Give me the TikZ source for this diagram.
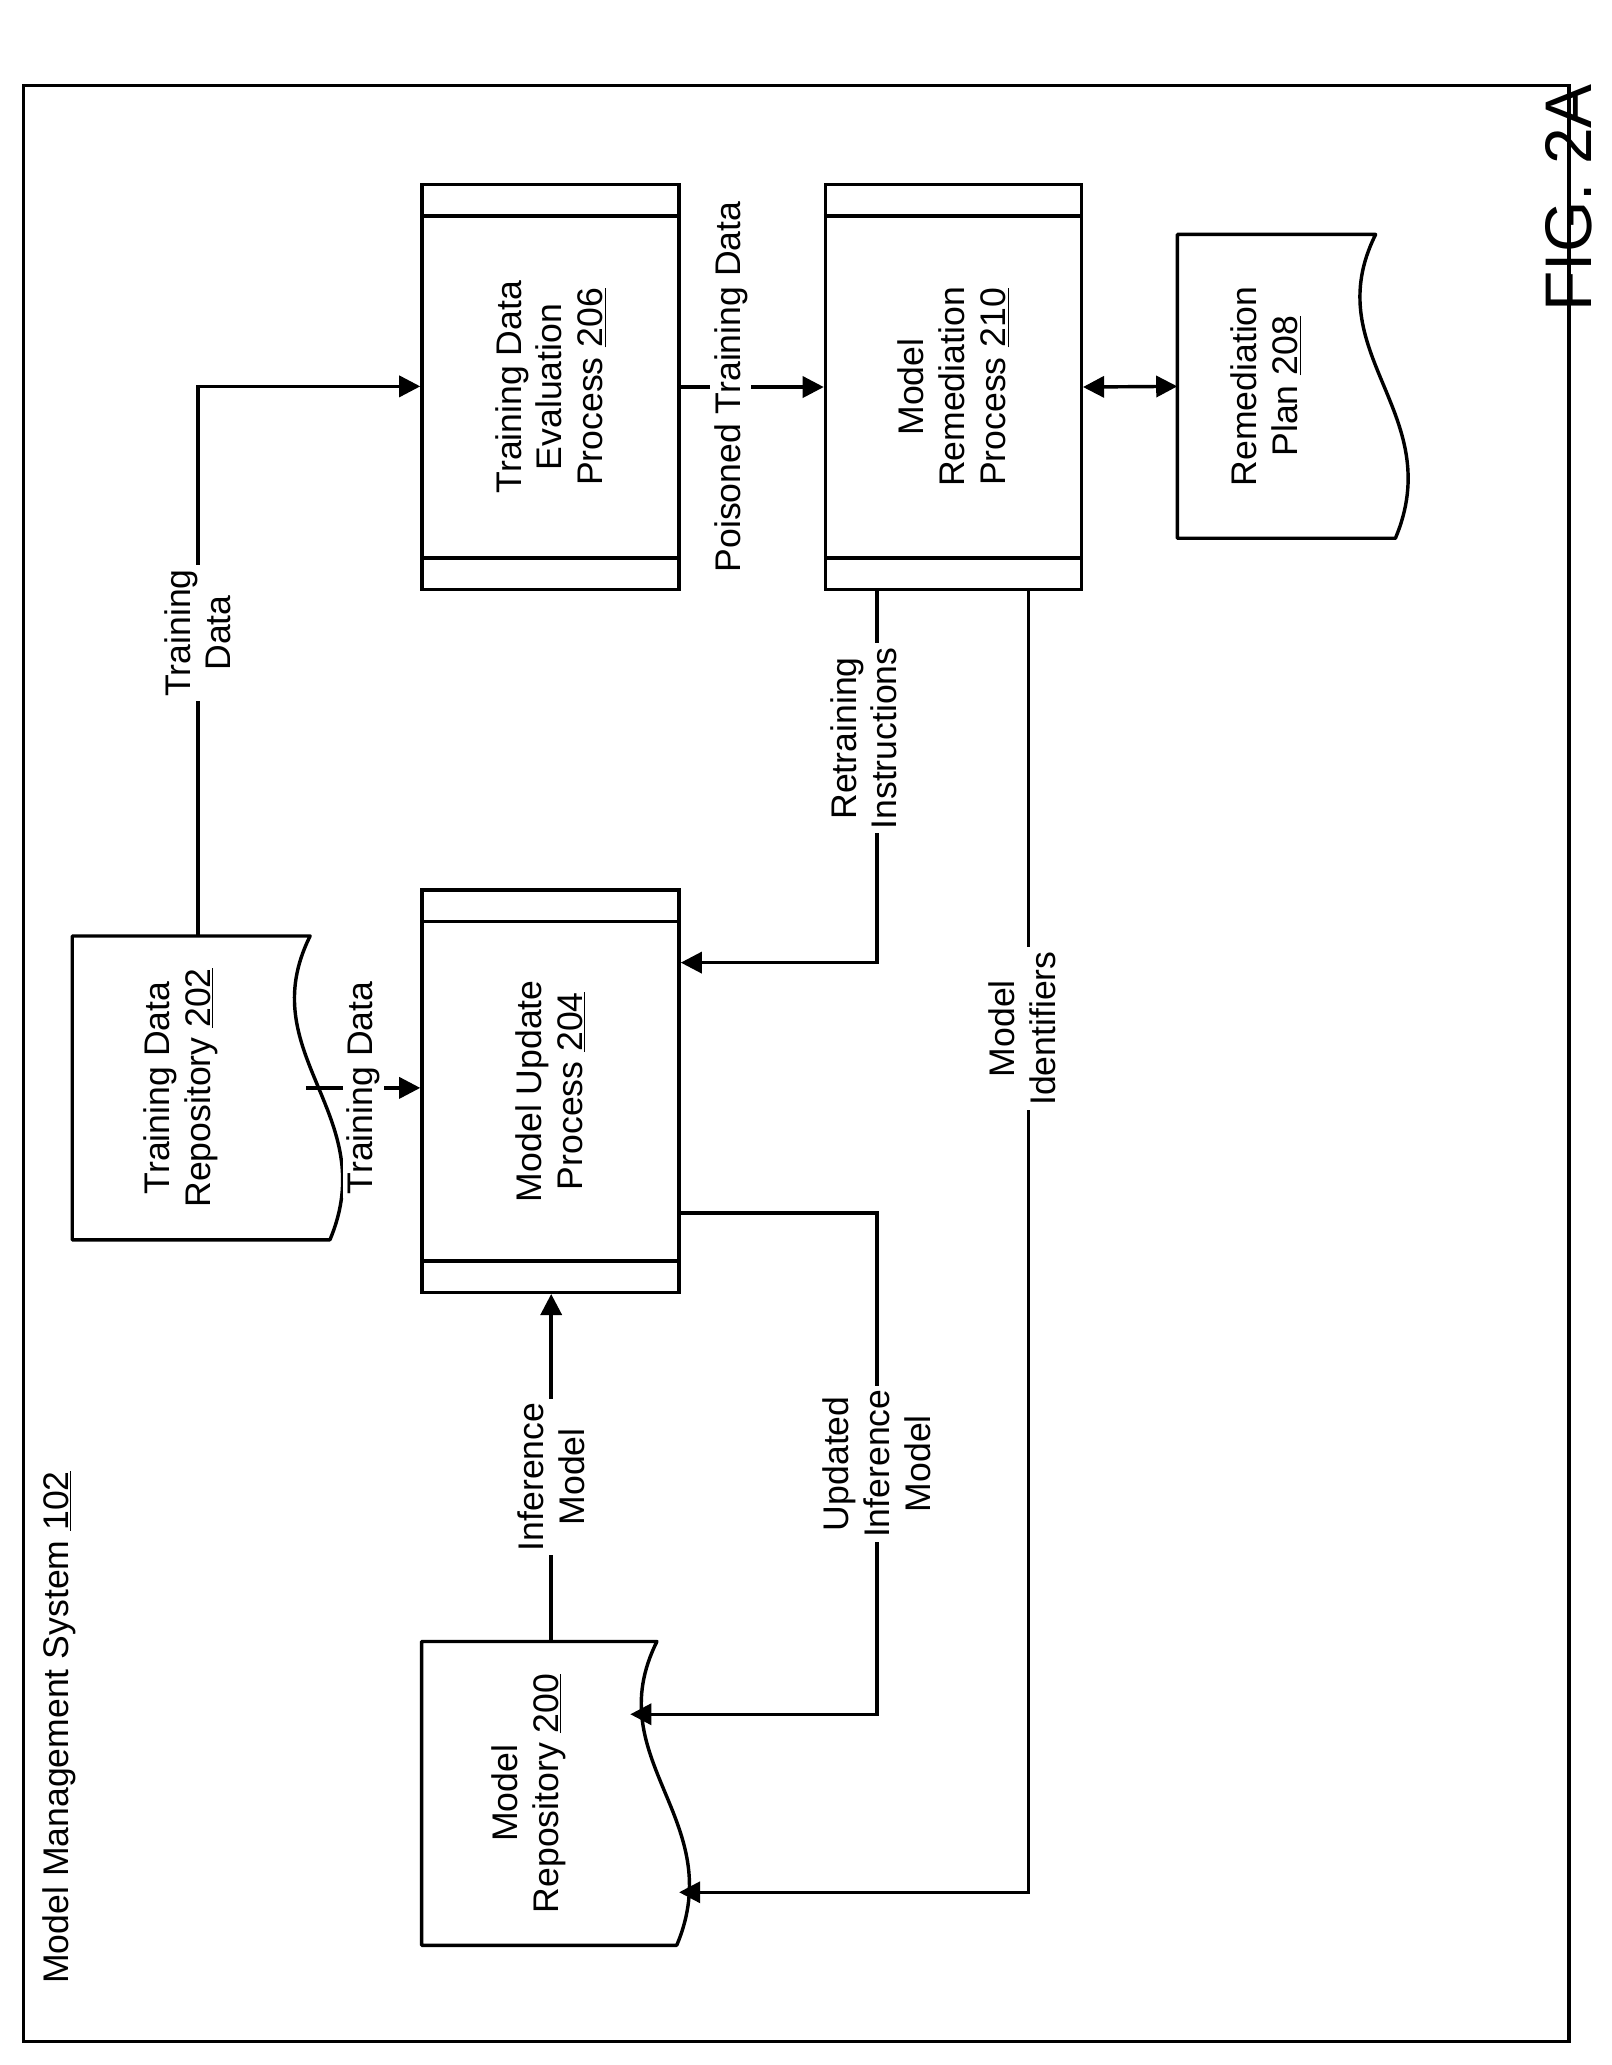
\documentclass[tikz,border=0pt]{standalone}
\usepackage{fontspec}
\setmainfont{Liberation Sans}
\usetikzlibrary{arrows.meta,calc}
\begin{document}
\begin{tikzpicture}[x=1pt,y=-1pt,
  every node/.style={font=\fontsize{27}{31}\selectfont},
  ln/.style={line width=2.6pt},
  arr/.style={ln,-{Triangle[length=16pt,width=16pt]}},
  darr/.style={ln,{Triangle[length=16pt,width=16pt]}-{Triangle[length=16pt,width=16pt]}},
  proc/.style={draw,line width=2.6pt,minimum width=195pt,minimum height=307pt,inner sep=0pt},
  lab/.style={rotate=90,align=center,fill=white,inner sep=3pt},
  txt/.style={rotate=90,align=center}]
\useasboundingbox (0,0) rectangle (1222,1566);
\node[draw,line width=2.6pt,minimum width=1172pt,minimum height=1483pt] (frame) at (604,806.5) {};
\node[txt,font=\fontsize{50}{56}\selectfont] (fig) at (1190,150) {FIG. 2A};
\node[txt] (mms) at (45,1310) {Model Management System \underline{102}};
% processes
\node[proc] (p206) at (417.5,293.5) {};
\node[proc,minimum width=194pt] (p210) at (723,293.5) {};
\node[proc,minimum height=305pt] (p204) at (417.5,827.5) {};
\foreach \p in {p206,p210,p204}{
  \draw[ln] ($(\p.north west)+(0,25)$) -- ($(\p.north east)+(0,25)$);
  \draw[ln] ($(\p.south west)+(0,-25)$) -- ($(\p.south east)+(0,-25)$);
}
\node[txt] at (p206) {Training Data\\Evaluation\\Process \underline{206}};
\node[txt] at (p210) {Model\\Remediation\\Process \underline{210}};
\node[txt] at (p204) {Model Update\\Process \underline{204}};
% documents
\node[minimum width=180pt,minimum height=230pt,inner sep=0pt] (d202) at (145,825) {};
\node[minimum width=178pt,minimum height=230pt,inner sep=0pt] (d200) at (409,1360) {};
\node[minimum width=150pt,minimum height=230pt,inner sep=0pt] (d208) at (968,293) {};
\foreach \d in {d202,d200,d208}{
  \draw[ln,line join=round] (\d.north west) -- (\d.north east)
    .. controls ($(\d.north east)+(-45,90)$) and ($(\d.south east)+(55,-95)$) .. ($(\d.south east)+(15,0)$)
    -- (\d.south west) -- cycle;
}
\node[txt] at ($(d202)+(-8,0)$) {Training Data\\Repository \underline{202}};
\node[txt] at ($(d200)+(-8,0)$) {Model\\Repository \underline{200}};
\node[txt] at ($(d208)+(-8,0)$) {Remediation\\Plan \underline{208}};
% connectors
\coordinate (c1) at (150,293);
\draw[arr] (150,710) -- (c1) -- (p206.west |- c1);
\node[lab] at (150,480) {Training\\Data};
\draw[arr] (232,825) -- (p204.west |- 0,825) node[lab,midway] {Training Data};
\draw[arr] (p206.east) -- (p210.west) node[lab,pos=0.35] {Poisoned Training Data};
\draw[darr] (p210.east) -- (d208.west);
\coordinate (c2) at (665,730);
\draw[arr] (p210.south -| c2) -- (c2) -- (p204.east |- c2);
\node[lab] at (655,560) {Retraining\\Instructions};
\coordinate (c3) at (780,1435);
\draw[arr] (p210.south -| c3) -- (c3) -- (515,1435);
\node[lab] at (775,780) {Model\\Identifiers};
\draw[arr] (d200.north -| 418,0) -- (p204.south -| 418,0);
\node[lab] at (418,1120) {Inference\\Model};
\coordinate (c4) at (665,920);
\coordinate (c5) at (665,1300);
\draw[arr] (p204.east |- c4) -- (c4) -- (c5) -- (478,1300);
\node[lab] at (665,1110) {Updated\\Inference\\Model};
\end{tikzpicture}
\end{document}
